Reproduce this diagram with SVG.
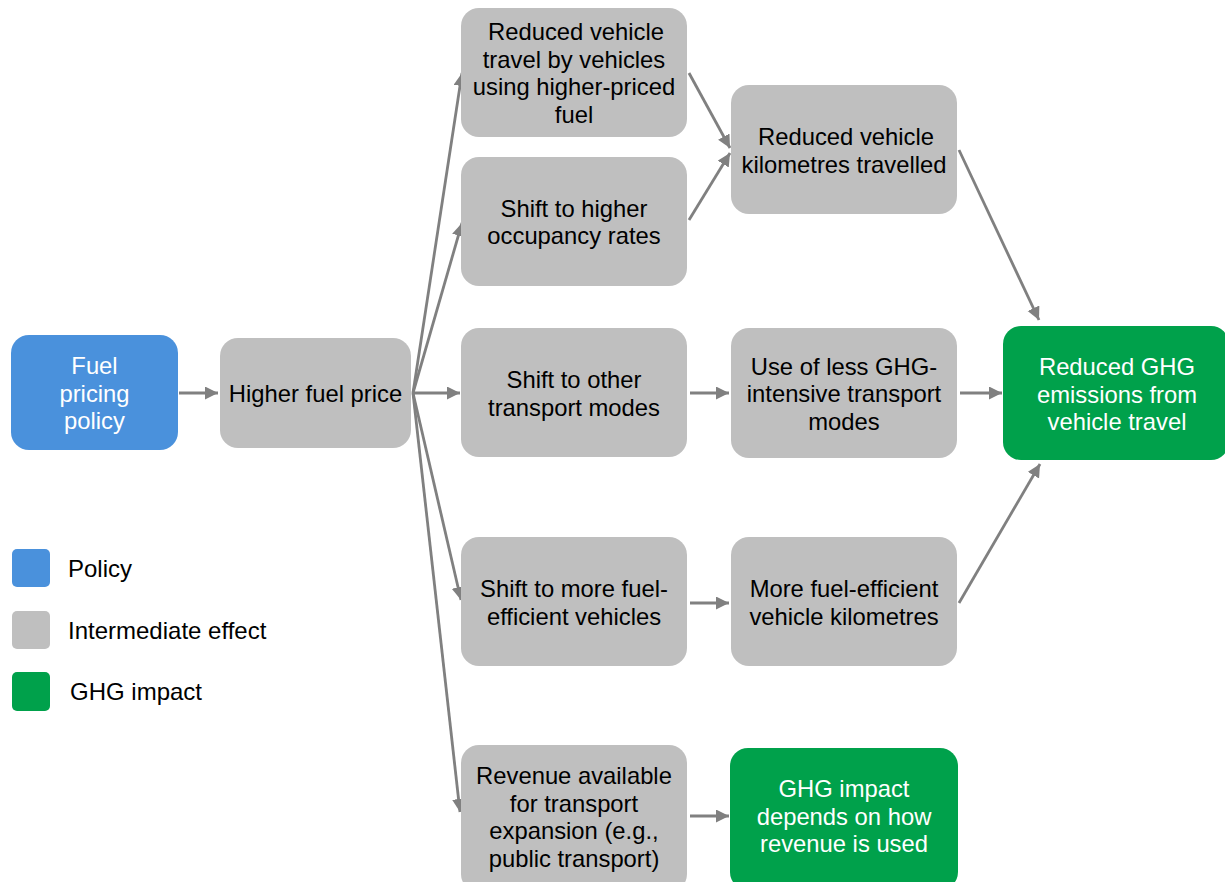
<svg xmlns="http://www.w3.org/2000/svg" width="1225" height="882" viewBox="0 0 1225 882">
<defs>
<marker id="ah" markerUnits="userSpaceOnUse" markerWidth="15" markerHeight="15" refX="13" refY="6.5" orient="auto">
<path d="M0,0 L13,6.5 L0,13 z" fill="#808080"/>
</marker>
<style>
.g{fill:#BFBFBF}
.b{fill:#4A91DC}
.gr{fill:#00A14B}
text{font-family:"Liberation Sans",Arial,sans-serif;font-size:23.8px;text-anchor:middle;fill:#000}
.w{fill:#fff}
.lg{text-anchor:start;font-size:24px}
.c{stroke:#808080;stroke-width:2.8;fill:none;marker-end:url(#ah)}
</style>
</defs>
<rect width="1225" height="882" fill="#fff"/>
<g id="connectors">
<line class="c" x1="179" y1="393" x2="218" y2="393"/>
<line class="c" x1="413" y1="393" x2="462" y2="73"/>
<line class="c" x1="413" y1="393" x2="462" y2="223"/>
<line class="c" x1="413" y1="393" x2="460" y2="393"/>
<line class="c" x1="413" y1="393" x2="461" y2="600"/>
<line class="c" x1="413" y1="393" x2="460" y2="812"/>
<line class="c" x1="689" y1="73" x2="730" y2="148"/>
<line class="c" x1="689" y1="220" x2="730" y2="153"/>
<line class="c" x1="959" y1="150" x2="1039" y2="320"/>
<line class="c" x1="690" y1="393" x2="729" y2="393"/>
<line class="c" x1="960" y1="393" x2="1002" y2="393"/>
<line class="c" x1="690" y1="603" x2="729" y2="603"/>
<line class="c" x1="959" y1="603" x2="1040" y2="464"/>
<line class="c" x1="690" y1="816" x2="729" y2="816"/>
</g>
<g id="fuel-pricing-policy">
<rect class="b" x="11" y="335" width="167" height="115" rx="18"/>
<text class="w"><tspan x="94.5" y="374">Fuel</tspan><tspan x="94.5" y="401.5">pricing</tspan><tspan x="94.5" y="429">policy</tspan></text>
</g>
<g id="higher-fuel-price">
<rect class="g" x="220" y="338" width="191" height="110" rx="18"/>
<text><tspan x="315.5" y="401.5">Higher fuel price</tspan></text>
</g>
<g id="reduced-vehicle-travel">
<rect class="g" x="461" y="8" width="226" height="129" rx="18"/>
<text><tspan x="576" y="40">Reduced vehicle</tspan><tspan x="574" y="67.5">travel by vehicles</tspan><tspan x="574" y="95">using higher-priced</tspan><tspan x="574" y="122.5">fuel</tspan></text>
</g>
<g id="higher-occupancy">
<rect class="g" x="461" y="157" width="226" height="129" rx="18"/>
<text><tspan x="574" y="216.5">Shift to higher</tspan><tspan x="574" y="244">occupancy rates</tspan></text>
</g>
<g id="other-modes">
<rect class="g" x="461" y="328" width="226" height="129" rx="18"/>
<text><tspan x="574" y="388">Shift to other</tspan><tspan x="574" y="415.5">transport modes</tspan></text>
</g>
<g id="fuel-efficient-vehicles">
<rect class="g" x="461" y="537" width="226" height="129" rx="18"/>
<text><tspan x="574" y="597">Shift to more fuel-</tspan><tspan x="574" y="624.5">efficient vehicles</tspan></text>
</g>
<g id="revenue">
<rect class="g" x="461" y="745" width="226" height="147" rx="18"/>
<text><tspan x="574" y="784">Revenue available</tspan><tspan x="574" y="811.5">for transport</tspan><tspan x="574" y="839">expansion (e.g.,</tspan><tspan x="574" y="866.5">public transport)</tspan></text>
</g>
<g id="reduced-vkt">
<rect class="g" x="731" y="85" width="226" height="129" rx="18"/>
<text><tspan x="846" y="145">Reduced vehicle</tspan><tspan x="844" y="172.5">kilometres travelled</tspan></text>
</g>
<g id="less-ghg-modes">
<rect class="g" x="731" y="328" width="226" height="130" rx="18"/>
<text><tspan x="844" y="374.5">Use of less GHG-</tspan><tspan x="844" y="402">intensive transport</tspan><tspan x="844" y="429.5">modes</tspan></text>
</g>
<g id="fuel-efficient-vkm">
<rect class="g" x="731" y="537" width="226" height="129" rx="18"/>
<text><tspan x="844" y="597">More fuel-efficient</tspan><tspan x="844" y="624.5">vehicle kilometres</tspan></text>
</g>
<g id="reduced-ghg">
<rect class="gr" x="1003" y="326" width="226" height="134" rx="18"/>
<text class="w"><tspan x="1117" y="375">Reduced GHG</tspan><tspan x="1117" y="402.5">emissions from</tspan><tspan x="1117" y="430">vehicle travel</tspan></text>
</g>
<g id="ghg-depends">
<rect class="gr" x="730" y="748" width="228" height="142" rx="18"/>
<text class="w"><tspan x="844" y="797">GHG impact</tspan><tspan x="844" y="824.5">depends on how</tspan><tspan x="844" y="852">revenue is used</tspan></text>
</g>
<g id="legend">
<rect class="b" x="12" y="549" width="38" height="38" rx="5"/>
<rect class="g" x="12" y="611" width="38" height="38" rx="5"/>
<rect class="gr" x="12" y="672" width="38" height="39" rx="5"/>
<text class="lg" x="68" y="577">Policy</text>
<text class="lg" x="68" y="639">Intermediate effect</text>
<text class="lg" x="70" y="700">GHG impact</text>
</g>
</svg>
